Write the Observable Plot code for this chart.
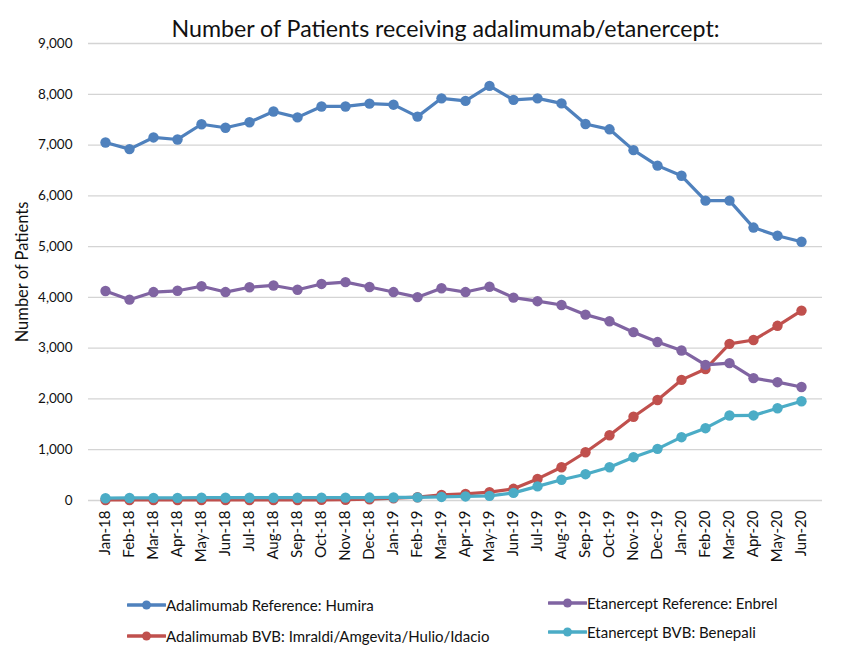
<!DOCTYPE html>
<html>
<head>
<meta charset="utf-8">
<script src="https://cdn.jsdelivr.net/npm/d3@7"></script>
<script src="https://cdn.jsdelivr.net/npm/@observablehq/plot@0.6"></script>
<style>
  html, body { margin: 0; padding: 0; background: #fff; }
  #wrap { position: relative; width: 863px; height: 654px; font-family: Lato, "Open Sans", sans-serif; color: #111; }
  #chart { position: absolute; left: 0; top: 0; }
  .leg { position: absolute; display: flex; align-items: center; font-size: 15px; white-space: nowrap; }
  .leg svg { display: block; }
</style>
</head>
<body>
<div id="wrap"><div id="chart"></div></div>
<script>
const months = ["Jan-18","Feb-18","Mar-18","Apr-18","May-18","Jun-18","Jul-18","Aug-18","Sep-18","Oct-18","Nov-18","Dec-18",
  "Jan-19","Feb-19","Mar-19","Apr-19","May-19","Jun-19","Jul-19","Aug-19","Sep-19","Oct-19","Nov-19","Dec-19",
  "Jan-20","Feb-20","Mar-20","Apr-20","May-20","Jun-20"];
const humira = [7050,6920,7150,7110,7410,7340,7450,7660,7545,7760,7760,7815,7795,7560,7920,7870,8165,7890,7920,7820,7415,7310,6900,6595,6395,5905,5905,5375,5215,5095];
const enbrel = [4125,3955,4105,4130,4220,4105,4200,4235,4150,4265,4300,4205,4105,4005,4180,4105,4210,3995,3925,3850,3660,3530,3315,3120,2955,2670,2705,2410,2330,2235];
const adalimumabBVB = [10,10,10,10,10,10,10,10,10,12,15,25,45,65,110,130,165,230,425,655,950,1285,1650,1980,2375,2590,3085,3160,3440,3740];
const benepali = [45,50,52,52,55,55,55,55,55,57,57,58,60,62,70,80,92,150,278,408,518,655,853,1017,1247,1424,1673,1675,1817,1955];
const seriesNames = ["Adalimumab Reference: Humira","Adalimumab BVB: Imraldi/Amgevita/Hulio/Idacio","Etanercept Reference: Enbrel","Etanercept BVB: Benepali"];
const seriesValues = [humira, adalimumabBVB, enbrel, benepali];
const seriesColors = ["#4F81BD","#C0504D","#8064A2","#4BACC6"];
const yTicks = [0,1000,2000,3000,4000,5000,6000,7000,8000,9000];
const title = "Number of Patients receiving adalimumab/etanercept:";
const yTitle = "Number of Patients";

const rows = seriesNames.flatMap((s, i) => seriesValues[i].map((v, j) => ({series: s, month: months[j], value: v})));

const seriesMarks = seriesNames.flatMap(s => {
  const d = rows.filter(r => r.series === s);
  return [
    Plot.line(d, {x: "month", y: "value", stroke: "series", strokeWidth: 3.2}),
    Plot.dot(d, {x: "month", y: "value", fill: "series", r: 5.2})
  ];
});

const chart = Plot.plot({
  width: 863,
  height: 585,
  marginTop: 43,
  marginBottom: 85,
  marginLeft: 88,
  marginRight: 41,
  style: {fontFamily: "Lato, 'Open Sans', sans-serif", color: "#111", background: "#fff"},
  x: {type: "point", domain: months, range: [99.5, 806.5], padding: 0},
  y: {domain: [0, 9000]},
  color: {domain: seriesNames, range: seriesColors},
  marks: [
    Plot.ruleY(yTicks, {stroke: "#d4d4d4", strokeWidth: 1.3}),
    Plot.axisY(yTicks, {tickSize: 0, tickPadding: 16, tickFormat: d3.format(","), fontSize: 13.5, label: null}),
    Plot.axisX({tickRotate: -90, tickSize: 0, tickPadding: 10, fontSize: 15, label: null}),
    Plot.text([yTitle], {frameAnchor: "left", textAnchor: "middle", lineAnchor: "middle", rotate: -90, dx: -66, fontSize: 16.5, text: d => d}),
    Plot.text([title], {frameAnchor: "top", dy: -23, dx: -10, fontSize: 23.2, text: d => d}),
    ...seriesMarks
  ]
});
document.getElementById("chart").appendChild(chart);

// legend (HTML, below the SVG region)
const legPos = [[127, 596], [127, 627], [548, 594], [548, 623]];
const wrap = document.getElementById("wrap");
seriesNames.forEach((s, i) => {
  const div = document.createElement("div");
  div.className = "leg";
  div.style.left = legPos[i][0] + "px";
  div.style.top = legPos[i][1] + "px";
  const c = seriesColors[i];
  div.innerHTML = `<svg width="39" height="14"><line x1="1" x2="38" y1="7" y2="7" stroke="${c}" stroke-width="3.5" stroke-linecap="round"/><circle cx="19.5" cy="7" r="4.5" fill="${c}"/></svg><span>${s}</span>`;
  wrap.appendChild(div);
});
</script>
</body>
</html>
